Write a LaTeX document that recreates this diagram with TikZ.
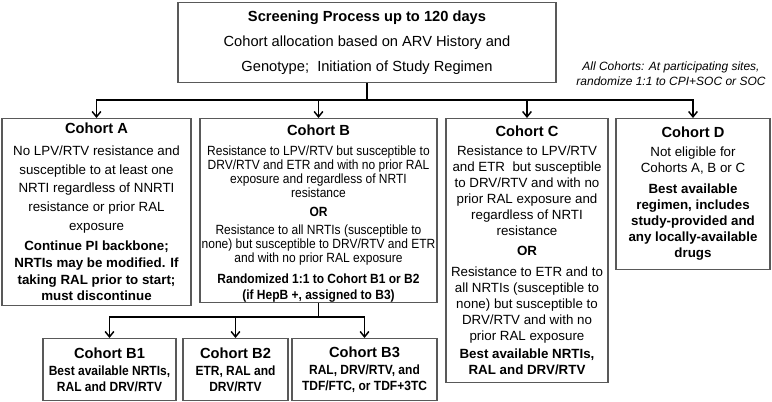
\documentclass[tikz,border=0pt]{standalone}
\usepackage{fontspec}
\setmainfont{Liberation Sans}
\newfontfamily\narrowfont{Liberation Sans}[FakeStretch=0.9]
\usetikzlibrary{arrows.meta}

\tikzset{
	box/.style={draw=black!65, line width=0.8pt, align=center, inner sep=0pt, anchor=north},
	link/.style={line width=1.1pt, -{Straight Barb[length=4pt,width=6.5pt]}},
	trunk/.style={line width=1.1pt}
}
\newcommand{\ttl}[1]{{\normalfont\fontsize{11}{13}\selectfont\bfseries #1}}

\begin{document}
\begin{tikzpicture}[x=0.75pt,y=0.75pt,yscale=-1,xscale=1]
	\useasboundingbox (0,0) rectangle (772,402);
	% top box
	\node [box, minimum width=283.5pt, minimum height=60pt, font=\fontsize{11}{18.75}\selectfont] (screen) at (367,2) {\textbf{Screening Process up to 120 days}\\ Cohort allocation based on ARV History and\\ Genotype;\ \ Initiation of Study Regimen};
	\node [align=center, inner sep=0pt, font=\fontsize{9}{11.25}\selectfont\itshape] (note) at (671,73.5) {All Cohorts: At participating sites,\\ randomize 1:1 to CPI+SOC or SOC};
	% cohorts
	\node [box, minimum width=141.75pt, minimum height=140.25pt, font=\fontsize{10}{14}\selectfont] (cohA) at (96.5,118) {\ttl{Cohort A}\\[2.5pt] No LPV/RTV resistance and\\ susceptible to at least one\\ NRTI regardless of NNRTI\\ resistance or prior RAL\\ exposure\\[1.5pt] \textbf{Continue PI backbone;}\\[-1.5pt] \textbf{NRTIs may be modified. If}\\[-1.5pt] \textbf{taking RAL prior to start;}\\[-1.5pt] \textbf{must discontinue}};
	\node [box, minimum width=177.75pt, minimum height=138pt, font=\narrowfont\fontsize{10}{10.6}\selectfont] (cohB) at (318.5,118) {\ttl{Cohort B}\rule{0pt}{12pt}\\[4.4pt] Resistance to LPV/RTV but susceptible to\\ DRV/RTV and ETR and with no prior RAL\\ exposure and regardless of NRTI\\ resistance\\[3.6pt] \textbf{OR}\\[2.9pt] Resistance to all NRTIs (susceptible to\\ none) but susceptible to DRV/RTV and ETR\\ and with no prior RAL exposure\\[5.4pt] \textbf{Randomized 1:1 to Cohort B1 or B2}\\[0.8pt] \textbf{(if HepB +, assigned to B3)}};
	\node [box, minimum width=121.5pt, minimum height=198pt, font=\fontsize{10}{12}\selectfont] (cohC) at (527,118) {\ttl{Cohort C}\\[2.25pt] Resistance to LPV/RTV\\ and ETR\ \ but susceptible\\ to DRV/RTV and with no\\ prior RAL exposure and\\ regardless of NRTI\\ resistance\\[3pt] \textbf{OR}\\[3.75pt] Resistance to ETR and to\\ all NRTIs (susceptible to\\ none) but susceptible to\\ DRV/RTV and with no\\ prior RAL exposure\\[1.5pt] \textbf{Best available NRTIs,}\\ \textbf{RAL and DRV/RTV}};
	\node [box, minimum width=115.5pt, minimum height=113.25pt, font=\fontsize{10}{12}\selectfont] (cohD) at (693,118) {\ttl{Cohort D}\\[2.25pt] Not eligible for\\ Cohorts A, B or C\\[3.75pt] \textbf{Best available}\\ \textbf{regimen, includes}\\ \textbf{study-provided and}\\ \textbf{any locally-available}\\ \textbf{drugs}};
	% sub cohorts of B
	\node [box, minimum width=99.75pt, minimum height=46.5pt, font=\narrowfont\fontsize{10}{12}\selectfont\bfseries] (cohB1) at (109.5,338) {\ttl{Cohort B1}\\[0.75pt] Best available NRTIs,\\ RAL and DRV/RTV};
	\node [box, minimum width=78.75pt, minimum height=46.5pt, font=\narrowfont\fontsize{10}{12}\selectfont\bfseries] (cohB2) at (235.5,338) {\ttl{Cohort B2}\\[0.75pt] ETR, RAL and\\ DRV/RTV};
	\node [box, minimum width=108.75pt, minimum height=46.5pt, font=\narrowfont\fontsize{10}{12}\selectfont\bfseries] (cohB3) at (364.5,338) {\ttl{Cohort B3}\\[0.75pt] RAL, DRV/RTV, and\\ TDF/FTC, or TDF+3TC};
	% connectors
	\path (screen.south) ++(0,17) coordinate (fork);
	\draw [trunk] (screen.south) -- (fork);
	\draw [link] (fork) -| (cohA.north);
	\draw [link] (fork) -| (cohB.north);
	\draw [link] (fork) -| (cohC.north);
	\draw [link] (fork) -| (cohD.north);
	\path (cohB.south) ++(0,14) coordinate (subfork);
	\draw [trunk] (cohB.south) -- (subfork);
	\draw [link] (subfork) -| (cohB1.north);
	\draw [link] (subfork) -| (cohB2.north);
	\draw [link] (subfork) -| (cohB3.north);
\end{tikzpicture}
\end{document}
